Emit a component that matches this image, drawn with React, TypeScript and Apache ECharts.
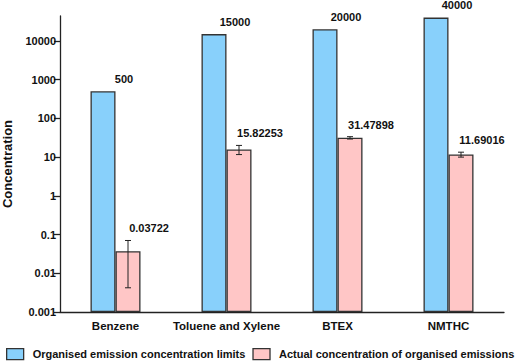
import React, { useEffect, useRef } from "react";
import * as echarts from "echarts";

const categories = ["Benzene", "Toluene and Xylene", "BTEX", "NMTHC"];
const limitValues = [500, 15000, 20000, 40000];
const actualValues = [0.03722, 15.82253, 31.47898, 11.69016];
const actualErrors = [0.033, 4.2, 2.2, 1.7];
const yTickValues = [0.001, 0.01, 0.1, 1, 10, 100, 1000, 10000];
const legendNames = [
  "Organised emission concentration limits",
  "Actual concentration of organised emissions",
];

const FONT = "Liberation Sans, Arial, sans-serif";
const BAR_W = 25;

export default function App() {
  const ref = useRef<HTMLDivElement>(null);
  useEffect(() => {
    if (!ref.current) return;
    const chart = echarts.init(ref.current, null, { renderer: "svg" });
    const fmt = (v: number) => {
      const r = Math.round(Math.log10(v));
      return r < 0 ? v.toFixed(-r) : String(Math.round(v));
    };
    chart.setOption({
      animation: false,
      textStyle: { fontFamily: FONT },
      grid: { left: 60, right: 20, top: 16, bottom: 51, containLabel: false, outerBoundsMode: "none" },
      legend: {
        top: 348,
        left: 6,
        width: 518,
        padding: 0,
        itemWidth: 17,
        itemHeight: 11,
        itemGap: 7,
        icon: "rect",
        itemStyle: { borderColor: "#333", borderWidth: 1.3 },
        textStyle: {
          fontFamily: FONT,
          fontWeight: "bold",
          fontSize: 11,
          color: "#111",
          padding: [0, 0, 0, 4],
        },
        data: legendNames,
      },
      xAxis: {
        type: "category",
        data: categories,
        axisLine: { lineStyle: { color: "#222", width: 1.3 } },
        axisTick: { alignWithLabel: true, length: 5, lineStyle: { color: "#222", width: 1.3 } },
        axisLabel: {
          interval: 0,
          fontFamily: FONT,
          fontWeight: "bold",
          fontSize: 11.5,
          color: "#111",
          margin: 8,
        },
      },
      yAxis: {
        type: "log",
        logBase: 10,
        min: 0.001,
        max: 44000,
        startValue: 0.001,
        name: "Concentration",
        nameLocation: "middle",
        nameRotate: 90,
        nameGap: 46,
        nameTextStyle: {
          fontFamily: FONT,
          fontWeight: "bold",
          fontSize: 13,
          color: "#111",
        },
        splitLine: { show: false },
        axisLine: { show: true, lineStyle: { color: "#222", width: 1.3 } },
        axisTick: {
          show: true,
          length: 6,
          customValues: yTickValues,
          lineStyle: { color: "#222", width: 1.3 },
        },
        axisLabel: {
          customValues: yTickValues,
          formatter: (v: number) => fmt(v),
          fontFamily: FONT,
          fontWeight: "bold",
          fontSize: 11,
          color: "#111",
          margin: 4,
        },
      },
      series: [
        {
          name: legendNames[0],
          type: "bar",
          barWidth: BAR_W,
          barGap: "0%",
          data: limitValues,
          itemStyle: { color: "#88D0FB", borderColor: "#333", borderWidth: 1.3 },
          label: {
            show: true,
            position: "top",
            offset: [21, -2],
            fontFamily: FONT,
            fontWeight: "bold",
            fontSize: 11,
            color: "#111",
          },
        },
        {
          name: legendNames[1],
          type: "bar",
          barWidth: BAR_W,
          barGap: "0%",
          data: actualValues,
          itemStyle: { color: "#FFC6C6", borderColor: "#333", borderWidth: 1.3 },
        },
        {
          type: "custom",
          name: "err",
          data: actualValues.map((v, i) => [i, v, actualErrors[i]]),
          z: 5,
          renderItem: (params: any, api: any) => {
            const i = api.value(0);
            const v = api.value(1);
            const e = api.value(2);
            const c = api.coord([i, v]);
            const top = api.coord([i, v + e]);
            const bot = api.coord([i, Math.max(v - e, 1e-6)]);
            const x = c[0] + BAR_W / 2;
            const cap = 3;
            const st = { stroke: "#222", lineWidth: 1 };
            const labelY = Math.min(top[1], c[1]) - 12;
            return {
              type: "group",
              children: [
                { type: "line", shape: { x1: x, y1: top[1], x2: x, y2: bot[1] }, style: st },
                { type: "line", shape: { x1: x - cap, y1: top[1], x2: x + cap, y2: top[1] }, style: st },
                { type: "line", shape: { x1: x - cap, y1: bot[1], x2: x + cap, y2: bot[1] }, style: st },
                {
                  type: "text",
                  x: x + 21,
                  y: labelY,
                  style: {
                    text: String(actualValues[i]),
                    fill: "#111",
                    font: `bold 11px ${FONT}`,
                    align: "center",
                    verticalAlign: "middle",
                  },
                },
              ],
            };
          },
        },
      ],
    });
    return () => chart.dispose();
  }, []);
  return <div ref={ref} style={{ width: 524, height: 363, position: "absolute", left: 0, top: 0 }} />;
}
